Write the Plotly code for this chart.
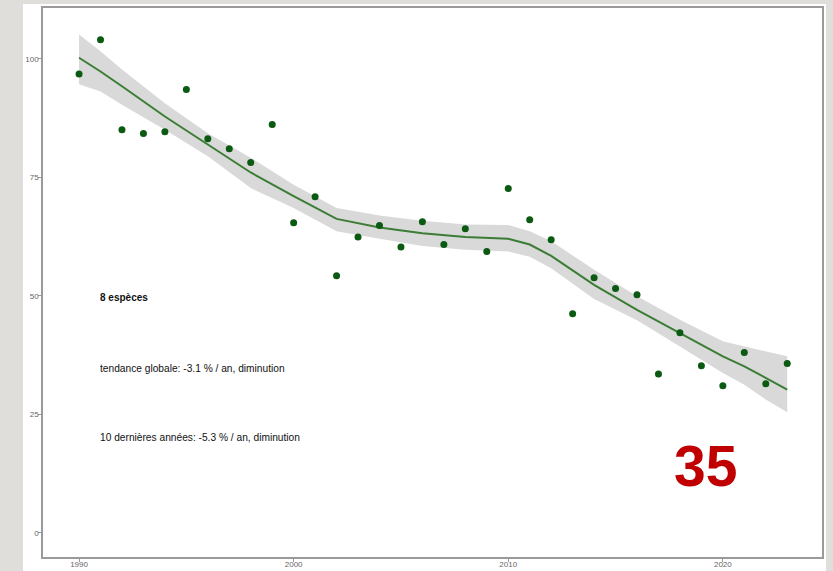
import plotly.graph_objects as go

years = list(range(1990, 2024))
index_values = [96.8, 104.0, 85.0, 84.2, 84.6, 93.5, 83.1, 81.0, 78.1, 86.1,
                65.4, 70.9, 54.2, 62.4, 64.8, 60.3, 65.6, 60.8, 64.1, 59.3,
                72.6, 66.0, 61.8, 46.2, 53.8, 51.5, 50.2, 33.5, 42.2, 35.2,
                31.0, 38.0, 31.4, 35.7]

smooth_years = [1990, 1991, 1992, 1994, 1996, 1998, 2000, 2002, 2004, 2006, 2008,
                2010, 2011, 2012, 2014, 2016, 2018, 2020, 2021, 2022, 2023]
smooth_fit = [100.2, 97.3, 94.2, 87.8, 81.9, 76.0, 71.0, 66.2, 64.4, 63.2, 62.4,
              62.0, 60.8, 58.4, 52.3, 47.0, 42.1, 37.2, 35.1, 32.6, 30.2]
smooth_upper = [105.1, 101.6, 97.7, 90.6, 84.3, 79.1, 73.4, 68.5, 66.9, 65.8, 65.0,
                64.9, 63.6, 61.5, 55.5, 49.9, 44.9, 40.4, 39.3, 38.2, 37.2]
smooth_lower = [94.6, 93.1, 90.3, 85.0, 79.4, 72.7, 68.5, 63.6, 62.0, 60.5, 59.7,
                59.3, 58.2, 55.8, 49.3, 44.8, 39.3, 33.7, 31.2, 28.1, 25.4]

x_ticks = [1990, 2000, 2010, 2020]
y_ticks = [0, 25, 50, 75, 100]

fig = go.Figure()
fig.add_trace(go.Scatter(x=smooth_years + smooth_years[::-1],
                         y=smooth_upper + smooth_lower[::-1],
                         fill="toself", fillcolor="#d9d9d9", line=dict(width=0),
                         mode="lines", hoverinfo="skip", showlegend=False))
fig.add_trace(go.Scatter(x=smooth_years, y=smooth_fit, mode="lines",
                         line=dict(color="#3b7d34", width=2), showlegend=False))
fig.add_trace(go.Scatter(x=years, y=index_values, mode="markers",
                         marker=dict(color="#0b5a12", size=7), showlegend=False))

fig.add_annotation(x=1990.86, y=49.7, text="<b>8 espèces</b>", showarrow=False,
                   xanchor="left", font=dict(size=10, color="#111"))
fig.add_annotation(x=1990.86, y=34.7, text="tendance globale: -3.1 % / an, diminution",
                   showarrow=False, xanchor="left", font=dict(size=10.2, color="#111"))
fig.add_annotation(x=1990.86, y=20.0, text="10 dernières années: -5.3 % / an, diminution",
                   showarrow=False, xanchor="left", font=dict(size=10.2, color="#111"))
fig.add_annotation(x=2019.2, y=14.1, text="<b>35</b>", showarrow=False,
                   font=dict(size=57, color="#c00000", family="Liberation Sans"))

# white panel behind the plot
pw, ph = 779, 549
fig.add_shape(type="rect", xref="paper", yref="paper", layer="below",
              x0=(23 - 43) / pw, x1=(826 - 43) / pw,
              y0=-14 / ph, y1=(557 - 4) / ph,
              fillcolor="white", line=dict(width=0))

axis_style = dict(showgrid=False, zeroline=False, showline=True, mirror=True,
                  linecolor="#9a9a9a", linewidth=1.5, ticks="outside", ticklen=3,
                  tickcolor="#9a9a9a", tickfont=dict(size=8, color="#666"),
                  automargin=False)

fig.update_layout(
    width=833, height=571,
    margin=dict(l=43, r=11, t=8, b=14, autoexpand=False),
    paper_bgcolor="#e0dedb", plot_bgcolor="white",
    font=dict(family="Liberation Sans, Arial, sans-serif"),
    xaxis=dict(range=[1988.32, 2024.62], tickvals=x_ticks, ticklabelstandoff=-4,
               **axis_style),
    yaxis=dict(range=[-5.13, 110.7], tickvals=y_ticks, ticklabelstandoff=-2,
               **axis_style),
)

fig.write_html("out.html", config={"displayModeBar": False},
               post_script="document.body.style.margin='0';"
                           "document.body.style.background='#e0dedb';")
